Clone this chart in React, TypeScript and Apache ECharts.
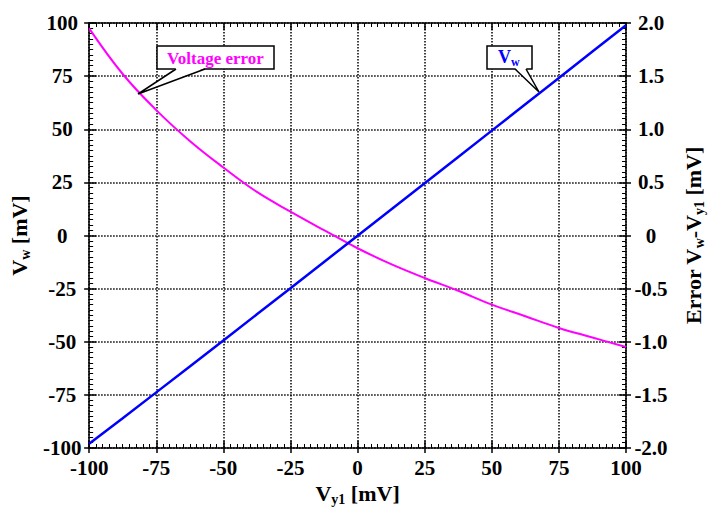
import React, { useEffect, useRef } from "react";
import * as echarts from "echarts";

const vy1 = [-100, -87.5, -75, -62.5, -50, -37.5, -25, -12.5, 0, 12.5, 25, 37.5, 50, 62.5, 75, 87.5, 100];
const vw = [-98.05, -85.98, -73.82, -61.61, -49.36, -37.09, -24.78, -12.45, -0.12, 12.23, 24.6, 36.98, 49.35, 61.74, 74.13, 86.54, 98.95];
const voltageError = [1.95, 1.52, 1.18, 0.89, 0.64, 0.41, 0.225, 0.05, -0.12, -0.27, -0.4, -0.52, -0.65, -0.76, -0.87, -0.96, -1.05];

const FONT = '"Liberation Serif", "Times New Roman", serif';
const BLACK = "#000";

const rich = {
  v: { fontFamily: FONT, fontWeight: "bold", fontSize: 22, color: BLACK, verticalAlign: "top", lineHeight: 24 },
  s: { fontFamily: FONT, fontWeight: "bold", fontSize: 14, color: BLACK, verticalAlign: "top", lineHeight: 24, padding: [10, 0, 0, 0] },
};

const labelStyle = { fontFamily: FONT, fontWeight: "bold", fontSize: 21, color: BLACK };

function tickAxisCommon(inside: boolean) {
  return {
    axisLine: { show: inside, onZero: false, lineStyle: { color: BLACK, width: 1.5 } },
    axisTick: { show: true, inside, length: inside ? 7 : 5, lineStyle: { color: BLACK, width: 1.5 } },
    minorTick: { show: inside, splitNumber: 10, length: 4, lineStyle: { color: BLACK, width: 1 } },
  };
}

export default function App() {
  const ref = useRef<HTMLDivElement>(null);
  useEffect(() => {
    if (!ref.current) return;
    const chart = echarts.init(ref.current, null, { renderer: "svg" });
    const gridLine = { show: true, lineStyle: { color: BLACK, width: 1.5, type: [1.5, 1.5] } };
    const xBase = { type: "value", min: -100, max: 100, interval: 25 };
    const yLeftBase = { type: "value", min: -100, max: 100, interval: 25 };
    const yRightBase = { type: "value", min: -2, max: 2, interval: 0.5 };
    chart.setOption({
      animation: false,
      backgroundColor: "#fff",
      grid: { left: 80, right: 85, top: 23, bottom: 66, containLabel: false },
      xAxis: [
        {
          ...xBase,
          position: "bottom",
          ...tickAxisCommon(true),
          splitLine: gridLine,
          axisLabel: { ...labelStyle, margin: 9 },
          name: "{v|V}{s|y1}{v| [mV]}",
          nameLocation: "middle",
          nameGap: 34,
          nameTextStyle: { rich },
        },
        { ...xBase, position: "top", ...tickAxisCommon(true), splitLine: { show: false }, axisLabel: { show: false } },
        { ...xBase, position: "bottom", ...tickAxisCommon(false), splitLine: { show: false }, axisLabel: { show: false } },
      ],
      yAxis: [
        {
          ...yLeftBase,
          position: "left",
          ...tickAxisCommon(true),
          splitLine: gridLine,
          axisLabel: { ...labelStyle, margin: 27, align: "center" },
          name: "{v|V}{s|w}{v| [mV]}",
          nameLocation: "middle",
          nameRotate: 90,
          nameGap: 52,
          nameTextStyle: { rich },
        },
        {
          ...yRightBase,
          position: "right",
          ...tickAxisCommon(true),
          splitLine: { show: false },
          axisLabel: {
            ...labelStyle,
            margin: 25,
            align: "center",
            formatter: (v: number) => (v === 0 ? "0" : v.toFixed(1)),
          },
          name: "{v|Error V}{s|w}{v|-V}{s|y1}{v| [mV]}",
          nameLocation: "middle",
          nameRotate: 90,
          nameGap: 56,
          nameTextStyle: { rich },
        },
        { ...yLeftBase, position: "left", ...tickAxisCommon(false), splitLine: { show: false }, axisLabel: { show: false } },
        { ...yRightBase, position: "right", ...tickAxisCommon(false), splitLine: { show: false }, axisLabel: { show: false } },
      ],
      series: [
        {
          type: "line",
          name: "Vw",
          xAxisIndex: 0,
          yAxisIndex: 0,
          data: vy1.map((x, i) => [x, vw[i]]),
          showSymbol: false,
          lineStyle: { color: "#0000ff", width: 2.5 },
          z: 3,
        },
        {
          type: "line",
          name: "Voltage error",
          xAxisIndex: 0,
          yAxisIndex: 1,
          data: vy1.map((x, i) => [x, voltageError[i]]),
          showSymbol: false,
          smooth: 0.4,
          lineStyle: { color: "#ff00ff", width: 2 },
          z: 2,
        },
      ],
      graphic: [
        { type: "rect", shape: { x: 157, y: 46, width: 117, height: 23 }, style: { fill: "#fff", stroke: BLACK, lineWidth: 1.5 }, z: 10 },
        { type: "polygon", shape: { points: [[176, 68], [138, 94], [205, 68]] }, style: { fill: "#fff" }, z: 11 },
        { type: "polyline", shape: { points: [[176, 69], [138, 94], [205, 69]] }, style: { stroke: BLACK, lineWidth: 1.5, fill: null }, z: 12 },
        {
          type: "text",
          x: 215.5,
          y: 58,
          style: { text: "Voltage error", fill: "#ff00ff", font: `bold 17px ${FONT}`, align: "center", verticalAlign: "middle" },
          z: 13,
        },
        { type: "rect", shape: { x: 487, y: 46, width: 45, height: 23 }, style: { fill: "#fff", stroke: BLACK, lineWidth: 1.5 }, z: 10 },
        { type: "polygon", shape: { points: [[515, 68], [539, 92], [526, 68]] }, style: { fill: "#fff" }, z: 11 },
        { type: "polyline", shape: { points: [[515, 69], [539, 92], [526, 69]] }, style: { stroke: BLACK, lineWidth: 1.5, fill: null }, z: 12 },
        {
          type: "text",
          x: 498,
          y: 48,
          style: {
            text: "{v|V}{s|w}",
            rich: {
              v: { fontFamily: FONT, fontWeight: "bold", fontSize: 18, fill: "#0000ff", verticalAlign: "top", lineHeight: 20 },
              s: { fontFamily: FONT, fontWeight: "bold", fontSize: 12, fill: "#0000ff", verticalAlign: "top", lineHeight: 20, padding: [8, 0, 0, 0] },
            },
          },
          z: 13,
        },
      ],
    });
    return () => chart.dispose();
  }, []);
  return <div ref={ref} style={{ width: 714, height: 514, position: "absolute", left: 0, top: 0 }} />;
}
